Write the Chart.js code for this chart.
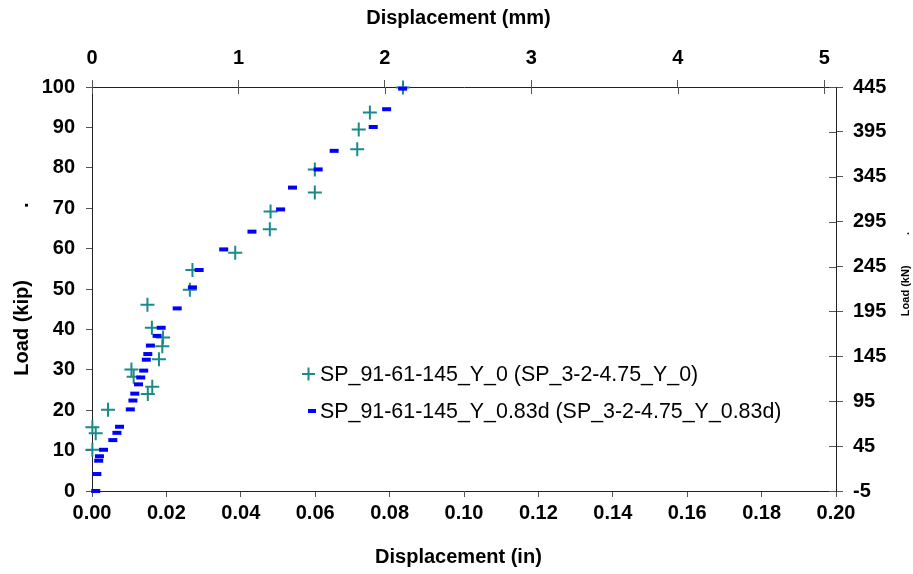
<!DOCTYPE html>
<html>
<head>
<meta charset="utf-8">
<script src="https://cdn.jsdelivr.net/npm/chart.js@4.4.0/dist/chart.umd.min.js"></script>
<style>
html,body{margin:0;padding:0;background:#fff;}
#wrap{width:913px;height:574px;position:relative;}
</style>
</head>
<body>
<div id="wrap"><canvas id="c"></canvas></div>
<script>
// ---- data ----
const seriesNames = ['SP_91-61-145_Y_0 (SP_3-2-4.75_Y_0)', 'SP_91-61-145_Y_0.83d (SP_3-2-4.75_Y_0.83d)'];

// Series 1: SP_91-61-145_Y_0  (displacement in inches, load in kip)
const dispY0 = [0.0001, 0.0010, 0.0001, 0.0043, 0.0150, 0.0162, 0.0112, 0.0106, 0.0180, 0.0189, 0.0191, 0.0161, 0.0149, 0.0263, 0.0270, 0.0385, 0.0478, 0.0480, 0.0599, 0.0599, 0.0713, 0.0717, 0.0747, 0.0836];
const loadY0 = [10.2, 14.3, 15.8, 20.1, 24.0, 25.8, 28.3, 30.1, 32.6, 35.8, 38.0, 40.4, 46.1, 49.8, 54.7, 59.0, 64.8, 69.2, 73.9, 79.6, 84.6, 89.5, 93.7, 99.9];

// Series 2: SP_91-61-145_Y_0.83d
const dispY083 = [0.0010, 0.0013, 0.0018, 0.0020, 0.0031, 0.0056, 0.0067, 0.0074, 0.0103, 0.0110, 0.0115, 0.0125, 0.0131, 0.0139, 0.0146, 0.0150, 0.0157, 0.0175, 0.0186, 0.0229, 0.0270, 0.0288, 0.0354, 0.0430, 0.0507, 0.0539, 0.0608, 0.0651, 0.0756, 0.0792, 0.0835];
const loadY083 = [0, 4.2, 7.5, 8.6, 10.2, 12.6, 14.4, 15.9, 20.2, 22.4, 24.1, 26.4, 28.1, 29.8, 32.5, 33.9, 36.0, 38.4, 40.4, 45.2, 50.4, 54.7, 59.8, 64.2, 69.7, 75.1, 79.6, 84.2, 90.1, 94.5, 99.6];

// Tick labels
const dispInTicks = [0, 0.02, 0.04, 0.06, 0.08, 0.10, 0.12, 0.14, 0.16, 0.18, 0.20];
const dispMmTicks = [0, 1, 2, 3, 4, 5];
const loadKipTicks = [0, 10, 20, 30, 40, 50, 60, 70, 80, 90, 100];
const loadKnTicks = [-5, 45, 95, 145, 195, 245, 295, 345, 395, 445];
const dispMmMax = 5.08; // 0.20 in expressed in mm

// ---- styling ----
const FAM = '"Liberation Sans", Arial, Helvetica, sans-serif';
const tickFont = {family: FAM, size: 20, weight: 'bold'};
const titleFont = {family: FAM, size: 20, weight: 'bold'};
const TEAL = '#1a8a8a';
const BLUE = '#0000ff';
const AXIS = '#222222';
const TICK = '#555555';
const NB = '\u00A0';

function fixedTicks(arr) { return function(scale) { scale.ticks = arr.map(v => ({value: v})); }; }
function toXY(xs, ys) { return xs.map((x, i) => ({x: x, y: ys[i]})); }

const innerTicks = {
  id: 'innerTicks',
  afterDraw(chart) {
    const ctx = chart.ctx;
    const x2 = chart.scales.x2, y2 = chart.scales.y2;
    ctx.save();
    ctx.strokeStyle = TICK;
    ctx.lineWidth = 1;
    x2.ticks.forEach(t => {
      const px = Math.round(x2.getPixelForValue(t.value)) + 0.5;
      ctx.beginPath(); ctx.moveTo(px, x2.bottom); ctx.lineTo(px, x2.bottom + 7); ctx.stroke();
    });
    y2.ticks.forEach(t => {
      const py = Math.round(y2.getPixelForValue(t.value)) + 0.5;
      ctx.beginPath(); ctx.moveTo(y2.left, py); ctx.lineTo(y2.left - 7, py); ctx.stroke();
    });
    // right axis title (rotated, reading bottom to top)
    ctx.fillStyle = '#000';
    ctx.font = 'bold 11px ' + FAM;
    ctx.textAlign = 'center';
    ctx.textBaseline = 'middle';
    ctx.translate(906, 274);
    ctx.rotate(-Math.PI / 2);
    ctx.fillText('Load (kN)' + NB.repeat(10) + '.', 0, 0);
    ctx.restore();
  }
};

const legendPlugin = {
  id: 'insideLegend',
  afterDatasetsDraw(chart) {
    const ctx = chart.ctx;
    const ds = chart.data.datasets;
    ctx.save();
    ctx.font = '21.4px ' + FAM;
    ctx.fillStyle = '#000';
    ctx.textAlign = 'left';
    ctx.textBaseline = 'middle';
    const r1 = 374, r2 = 411;
    ctx.strokeStyle = ds[0].borderColor;
    ctx.lineWidth = 2;
    ctx.beginPath();
    ctx.moveTo(302, r1); ctx.lineTo(315, r1);
    ctx.moveTo(308.5, r1 - 6.5); ctx.lineTo(308.5, r1 + 6.5);
    ctx.stroke();
    ctx.fillText(ds[0].label, 320, r1 + 1);
    ctx.strokeStyle = ds[1].borderColor;
    ctx.lineWidth = 4;
    ctx.beginPath();
    ctx.moveTo(308, r2); ctx.lineTo(316, r2);
    ctx.stroke();
    ctx.fillText(ds[1].label, 320, r2 + 1);
    ctx.restore();
  }
};

const axisCommon = {
  type: 'linear',
  grid: {drawOnChartArea: false, drawTicks: true, color: TICK, lineWidth: 1},
  border: {display: true, color: AXIS, width: 1}
};

new Chart(document.getElementById('c'), {
  type: 'scatter',
  data: {
    datasets: [
      {
        label: seriesNames[0],
        data: toXY(dispY0, loadY0),
        pointStyle: 'cross',
        pointRadius: 7,
        pointBorderWidth: 2,
        borderColor: TEAL,
        backgroundColor: TEAL,
        showLine: false,
        clip: false,
        order: 1
      },
      {
        label: seriesNames[1],
        data: toXY(dispY083, loadY083),
        pointStyle: 'line',
        pointRadius: 4.5,
        pointBorderWidth: 4,
        borderColor: BLUE,
        backgroundColor: BLUE,
        showLine: false,
        clip: false,
        order: 0
      }
    ]
  },
  options: {
    responsive: true,
    maintainAspectRatio: false,
    animation: false,
    events: [],
    layout: {padding: 0},
    plugins: {legend: {display: false}, tooltip: {enabled: false}, title: {display: false}},
    scales: {
      x: Object.assign({}, axisCommon, {
        position: 'bottom', min: 0, max: 0.2,
        afterBuildTicks: fixedTicks(dispInTicks),
        afterFit: s => { s.height = 83; },
        grid: Object.assign({}, axisCommon.grid, {tickLength: 6}),
        ticks: {font: tickFont, color: '#000', padding: 4, maxRotation: 0, autoSkip: false, callback: v => Number(v).toFixed(2)},
        title: {display: true, text: 'Displacement (in)' + NB + NB, font: titleFont, color: '#000', padding: {top: 0, bottom: 5}}
      }),
      x2: Object.assign({}, axisCommon, {
        position: 'top', min: 0, max: dispMmMax,
        afterBuildTicks: fixedTicks(dispMmTicks),
        afterFit: s => { s.height = 87; },
        grid: Object.assign({}, axisCommon.grid, {tickLength: 7}),
        ticks: {font: tickFont, color: '#000', padding: 10, maxRotation: 0, autoSkip: false, callback: v => String(v)},
        title: {display: true, text: 'Displacement (mm)' + NB + NB, font: titleFont, color: '#000', padding: {top: 6, bottom: 0}}
      }),
      y: Object.assign({}, axisCommon, {
        position: 'left', min: 0, max: 100,
        afterBuildTicks: fixedTicks(loadKipTicks),
        afterFit: s => { s.width = 92; },
        grid: Object.assign({}, axisCommon.grid, {tickLength: 6}),
        ticks: {font: tickFont, color: '#000', padding: 11, autoSkip: false, callback: v => String(v)},
        title: {display: true, text: 'Load (kip)' + NB.repeat(13) + '.', font: titleFont, color: '#000', padding: {top: 10, bottom: 0}}
      }),
      y2: Object.assign({}, axisCommon, {
        position: 'right', min: -5, max: 445,
        afterBuildTicks: fixedTicks(loadKnTicks),
        afterFit: s => { s.width = 77; },
        grid: Object.assign({}, axisCommon.grid, {tickLength: 7}),
        ticks: {font: tickFont, color: '#000', padding: 10, autoSkip: false, callback: v => String(v)}
      })
    }
  },
  plugins: [innerTicks, legendPlugin]
});
</script>
</body>
</html>
